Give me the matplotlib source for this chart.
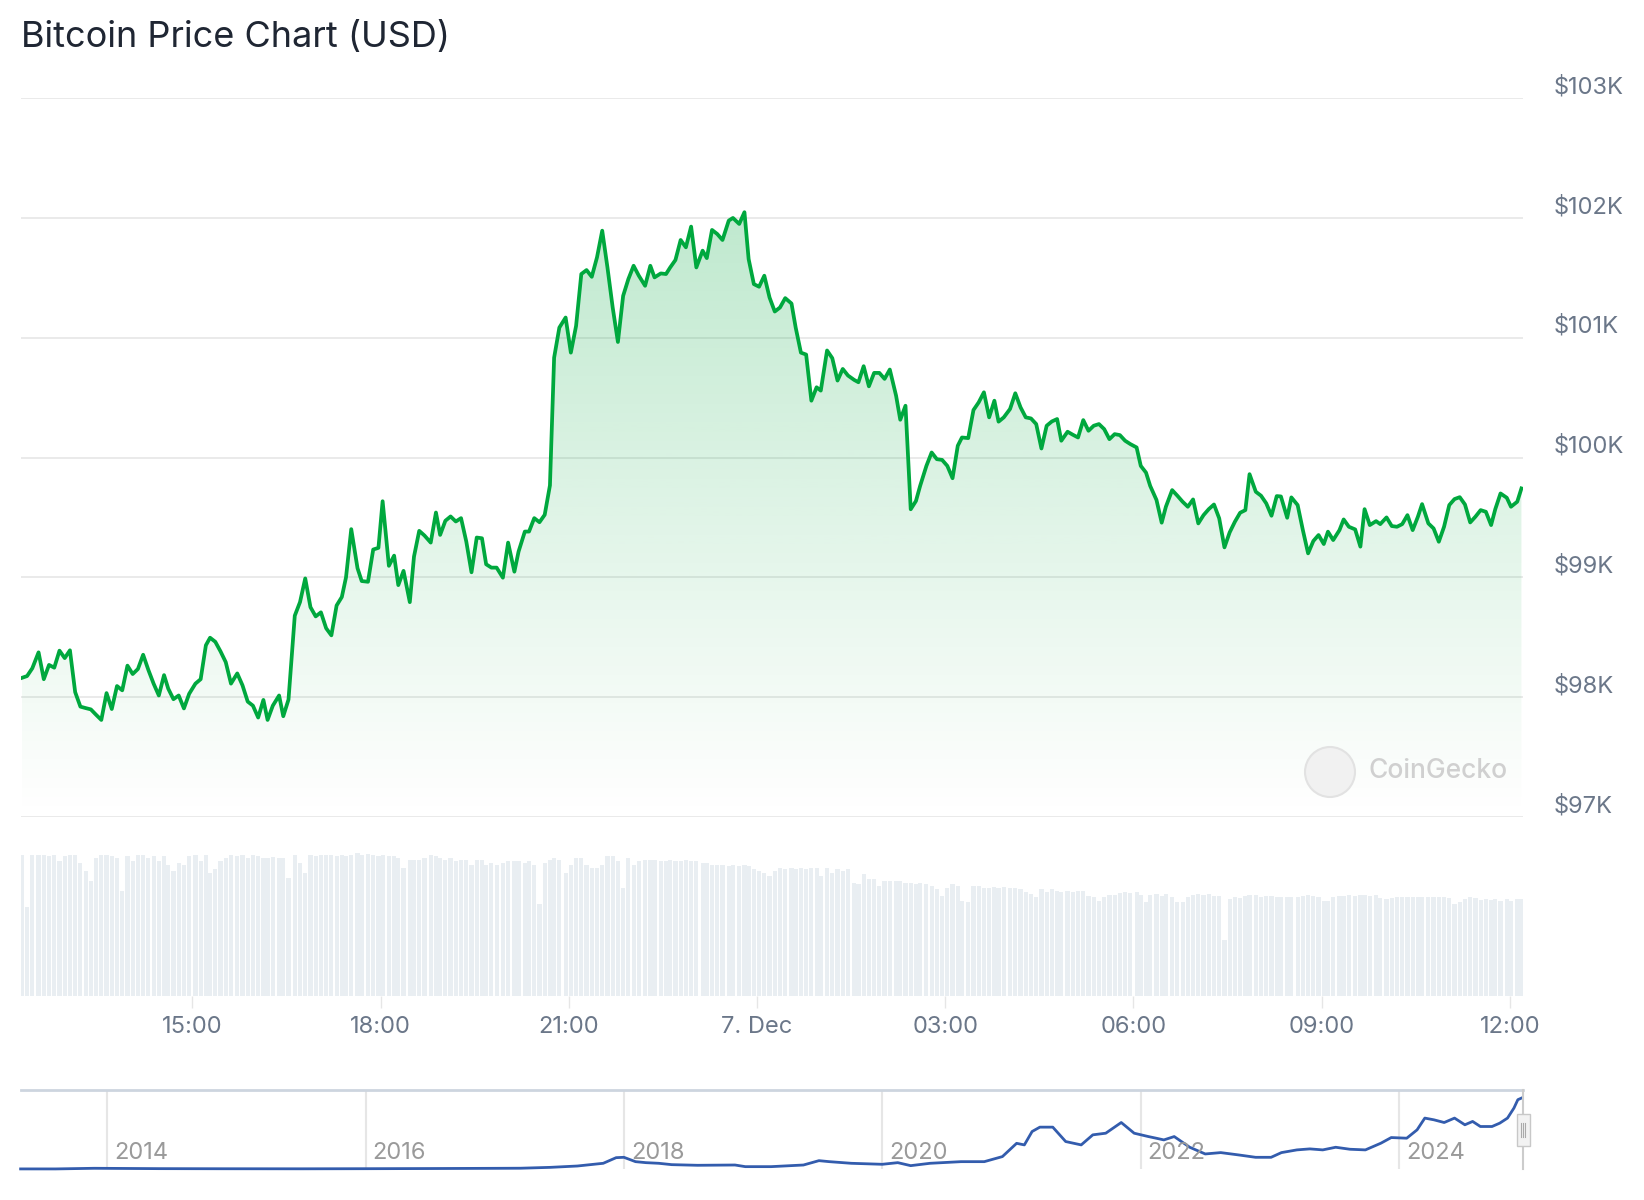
import numpy as np
import matplotlib
matplotlib.use('Agg')
import matplotlib.pyplot as plt
from matplotlib.patches import Rectangle, Ellipse

plt.rcParams['font.family'] = ['Inter', 'DejaVu Sans']

# 5-minute samples, minutes since 6 Dec 00:00
minutes = [
    737, 742, 747, 753, 758, 763, 768, 773, 778, 783, 788, 793, 798, 803, 808, 813, 818, 823, 828, 833,
    838, 843, 848, 853, 858, 863, 868, 873, 877, 882, 887, 892, 897, 903, 908, 913, 917, 922, 927, 932,
    937, 943, 948, 953, 958, 963, 968, 972, 977, 983, 987, 992, 998, 1003, 1008, 1013, 1018, 1023, 1028, 1033,
    1038, 1043, 1047, 1052, 1058, 1062, 1068, 1073, 1078, 1082, 1088, 1093, 1097, 1102, 1108,
    1112, 1117, 1122, 1128, 1133, 1137, 1142, 1147, 1152, 1157, 1162, 1167, 1172, 1177, 1181, 1186, 1191, 1197, 1202, 1208,
    1212, 1218, 1222, 1227, 1232, 1237, 1242, 1246, 1251, 1257, 1262, 1267, 1272, 1277, 1282, 1287, 1292, 1297, 1302, 1307,
    1312, 1317, 1322, 1327, 1333, 1338, 1342, 1348, 1353, 1357, 1362, 1367, 1372, 1377, 1382, 1388, 1392, 1397, 1402, 1407,
    1413, 1417, 1423, 1428, 1432, 1437, 1442, 1447, 1452, 1457, 1462, 1467, 1473, 1477, 1482,
    1487, 1492, 1497, 1501, 1507, 1512, 1517, 1522, 1527, 1533, 1537, 1542, 1547, 1552, 1557, 1562, 1567, 1573, 1577, 1582,
    1587, 1592, 1596, 1602, 1607, 1612, 1617, 1622, 1627, 1632, 1636, 1642, 1647, 1652, 1657, 1662, 1667, 1671, 1676, 1682,
    1687, 1692, 1697, 1702, 1707, 1712, 1717, 1722, 1727, 1731, 1737, 1742, 1747, 1752, 1757, 1762, 1767, 1772, 1777, 1782,
    1787, 1792, 1797, 1803, 1807, 1812, 1816, 1822, 1827,
    1831, 1837, 1842, 1847, 1852, 1857, 1862, 1867, 1872, 1877, 1882, 1887, 1892, 1897, 1902, 1907, 1911, 1917, 1922, 1927,
    1932, 1937, 1941, 1947, 1951, 1957, 1962, 1967, 1972, 1977, 1982, 1986, 1991, 1997, 2001, 2006, 2012, 2017, 2021, 2026,
    2032, 2036, 2042, 2047, 2052, 2057, 2062, 2067, 2072, 2076, 2082, 2087, 2092, 2097, 2102, 2107, 2112, 2117, 2122, 2127,
    2132, 2137, 2142, 2146, 2151, 2157, 2161, 2167, 2171,
]

price = [
    98161, 98176, 98241, 98374, 98150, 98269, 98246, 98388, 98326, 98391, 98042, 97921, 97909, 97898, 97853, 97810, 98034, 97901, 98093, 98057,
    98263, 98193, 98235, 98354, 98227, 98113, 98014, 98184, 98071, 97983, 98014, 97906, 98028, 98113, 98150, 98433, 98496, 98462, 98382, 98292,
    98113, 98198, 98099, 97963, 97929, 97830, 97977, 97810, 97929, 98014, 97841, 97980, 98680, 98793, 98991, 98751, 98674, 98708, 98575, 98516,
    98765, 98836, 99000, 99402, 99076, 98969, 98963, 99232, 99246, 99635, 99096, 99181, 98935, 99054, 98793,
    99173, 99388, 99349, 99290, 99541, 99354, 99472, 99508, 99466, 99494, 99299, 99042, 99332, 99326, 99109, 99081, 99081, 98997, 99290, 99047,
    99215, 99382, 99382, 99494, 99460, 99522, 99767, 100833, 101084, 101168, 100875, 101098, 101531, 101564, 101508, 101670, 101893, 101586, 101252, 100964,
    101349, 101489, 101600, 101517, 101433, 101600, 101503, 101536, 101531, 101586, 101648, 101815, 101754, 101927, 101586, 101726, 101664, 101899, 101865, 101815,
    101977, 101999, 101949, 102047, 101656, 101447, 101425, 101517, 101335, 101218, 101252, 101330, 101285, 101084, 100875,
    100859, 100474, 100586, 100558, 100893, 100829, 100642, 100739, 100684, 100647, 100628, 100762, 100594, 100706, 100706, 100656, 100734, 100516, 100315, 100432,
    99568, 99637, 99763, 99930, 100042, 99986, 99980, 99930, 99827, 100098, 100167, 100162, 100396, 100460, 100544, 100335, 100474, 100299, 100335, 100405,
    100536, 100419, 100335, 100326, 100279, 100075, 100265, 100301, 100321, 100140, 100215, 100190, 100167, 100312, 100223, 100265, 100279, 100237, 100153, 100195,
    100187, 100140, 100112, 100084, 99930, 99874, 99763, 99646, 99456,
    99589, 99728, 99681, 99631, 99589, 99650, 99450, 99519, 99569, 99608, 99492, 99250, 99375, 99464, 99539, 99561, 99861, 99714, 99681, 99617,
    99514, 99678, 99675, 99497, 99667, 99603, 99394, 99200, 99303, 99353, 99278, 99381, 99311, 99394, 99483, 99422, 99400, 99256, 99569, 99436,
    99469, 99444, 99500, 99428, 99422, 99444, 99519, 99394, 99506, 99611, 99450, 99408, 99297, 99422, 99603, 99653, 99669, 99608, 99458, 99506,
    99561, 99547, 99436, 99569, 99700, 99664, 99589, 99631, 99742,
]

# relative traded volume per sample
volume = [
    430, 270, 430, 430, 430, 425, 430, 410, 425, 430, 430, 405, 380, 350, 420, 430, 430, 425, 420, 320,
    425, 410, 430, 430, 420, 425, 410, 425, 400, 380, 405, 400, 425, 430, 410, 430, 375, 385, 410, 420,
    430, 425, 430, 420, 430, 425, 420, 420, 422, 420, 420, 360, 430, 405, 375, 430, 425, 430, 430, 430,
    425, 430, 425, 430, 435, 430, 433, 430, 425, 430, 425, 425, 420, 390, 415,
    415, 415, 420, 430, 425, 420, 415, 420, 410, 415, 415, 400, 415, 415, 400, 405, 400, 405, 410, 410,
    410, 405, 410, 400, 280, 405, 415, 420, 415, 375, 400, 420, 420, 400, 390, 390, 400, 425, 425, 410,
    330, 420, 400, 410, 415, 415, 415, 412, 410, 415, 412, 410, 415, 412, 410, 405, 405, 400, 400, 400,
    395, 400, 395, 400, 395, 385, 380, 375, 365, 380, 390, 385, 390, 385, 390,
    385, 390, 390, 365, 390, 375, 385, 380, 385, 345, 340, 370, 355, 355, 335, 350, 350, 350, 350, 345,
    345, 340, 345, 340, 335, 325, 305, 330, 340, 335, 290, 285, 335, 335, 330, 330, 332, 330, 332, 330,
    330, 325, 315, 310, 300, 325, 315, 325, 320, 315, 320, 315, 320, 320, 305, 300, 290, 302, 308, 308,
    312, 315, 312, 315, 308, 285, 308, 310, 305,
    310, 302, 285, 285, 300, 308, 310, 308, 310, 305, 305, 170, 295, 302, 298, 305, 308, 308, 300, 305,
    305, 302, 302, 302, 302, 302, 305, 308, 305, 300, 288, 290, 300, 305, 305, 308, 305, 308, 308, 305,
    308, 298, 295, 298, 300, 300, 300, 300, 300, 300, 300, 300, 300, 300, 298, 280, 285, 295, 300, 298,
    292, 295, 292, 295, 290, 295, 290, 295, 295,
]

xticks = [900, 1080, 1260, 1440, 1620, 1800, 1980, 2160]
xlabels = ['15:00', '18:00', '21:00', '7. Dec', '03:00', '06:00', '09:00', '12:00']
yticks = [97000, 98000, 99000, 100000, 101000, 102000, 103000]
ylabels = ['$97K', '$98K', '$99K', '$100K', '$101K', '$102K', '$103K']

# navigator: long-term history, price in $K
nav_year = [2013.33, 2013.6, 2013.9, 2014.1, 2014.4, 2014.9, 2015.5, 2016.0, 2016.5, 2017.0,
            2017.2, 2017.43, 2017.64, 2017.84, 2017.94, 2018.0, 2018.09, 2018.17, 2018.27, 2018.37,
            2018.57, 2018.86, 2018.94, 2019.14, 2019.39, 2019.51, 2019.59, 2019.76, 2020.0, 2020.12,
            2020.22, 2020.37, 2020.61, 2020.79, 2020.93, 2021.04, 2021.1, 2021.16, 2021.22, 2021.32,
            2021.42, 2021.54, 2021.63, 2021.73, 2021.85, 2021.95, 2022.06, 2022.12, 2022.18, 2022.26,
            2022.38, 2022.5, 2022.62, 2022.76, 2022.89, 2023.01, 2023.09, 2023.21, 2023.31, 2023.41,
            2023.51, 2023.62, 2023.74, 2023.86, 2023.94, 2024.06, 2024.14, 2024.2, 2024.27, 2024.35,
            2024.43, 2024.51, 2024.57, 2024.63, 2024.72, 2024.78, 2024.84, 2024.89, 2024.92, 2024.95]
nav_price = [0.12, 0.1, 1.0, 0.8, 0.5, 0.35, 0.27, 0.42, 0.65, 0.95,
             1.1, 2.3, 4.2, 8.0, 15.9, 16.4, 10.3, 8.9, 8.0, 6.1,
             5.2, 5.6, 3.3, 3.3, 5.6, 11.7, 10.3, 8.0, 6.6, 8.9,
             4.7, 8.0, 10.3, 10.3, 17.4, 36.0, 33.8, 52.6, 58.7, 58.7,
             38.5, 33.8, 47.9, 50.2, 65.2, 50.2, 45.5, 43.2, 40.8, 45.5,
             30.5, 21.1, 23.0, 19.7, 16.4, 16.4, 23.0, 26.8, 28.2, 26.8,
             30.5, 27.7, 26.8, 36.2, 44.1, 43.2, 54.9, 71.4, 69.0, 65.2,
             71.4, 62.0, 66.7, 59.6, 59.6, 64.3, 71.4, 85.5, 97.2, 99.6]
nav_years = [2014, 2016, 2018, 2020, 2022, 2024]

W, H = 1644, 1200
GREEN = '#00a83e'
LABEL = '#6b7789'
GRID = '#e6e6e6'


def box(x0, y0, x1, y1):
    return [x0 / W, 1 - y1 / H, (x1 - x0) / W, (y1 - y0) / H]


fig = plt.figure(figsize=(W / 100, H / 100), dpi=100)
fig.patch.set_facecolor('white')

fig.text(21 / W, 1 - 37 / H, 'Bitcoin Price Chart (USD)', fontsize=26,
         color='#1f2633', ha='left', va='center')

# price panel
ax = fig.add_axes(box(21, 98, 1523, 817))
x = np.array(minutes)
y = np.array(price)
for v in yticks:
    ax.axhline(v, color=GRID, lw=1.2, zorder=0)

poly = ax.fill_between(x, y, 97000, facecolor='none', edgecolor='none')
grad = np.zeros((256, 1, 4))
grad[..., 1] = 168 / 255
grad[..., 2] = 62 / 255
grad[..., 3] = np.linspace(0.0, 0.3, 256)[:, None]
im = ax.imshow(grad, extent=[x[0], x[-1], 97000, 103000], origin='lower',
               aspect='auto', zorder=1, interpolation='bilinear')
im.set_clip_path(poly.get_paths()[0], transform=ax.transData)
ax.plot(x, y, color=GREEN, lw=2.7, zorder=3, solid_joinstyle='round')

ax.set_xlim(736.2, 2172.5)
ax.set_ylim(97000, 103000)
ax.axis('off')
for v, lab in zip(yticks, ylabels):
    ax.annotate(lab, xy=(1, v), xycoords=('axes fraction', 'data'),
                xytext=(31 * 0.72, 11 * 0.72), textcoords='offset points',
                ha='left', va='center', fontsize=17, color=LABEL,
                annotation_clip=False)

# watermark
fig.add_artist(Ellipse((1330 / W, 1 - 772 / H), 50 / W, 50 / H,
                       transform=fig.transFigure, fc='#f1f1f1', ec='#e2e2e2', lw=1.5))
fig.text(1368 / W, 1 - 771 / H, 'CoinGecko', fontsize=19, color='#d0d0d0',
         ha='left', va='center', fontweight='medium')

# volume panel
axv = fig.add_axes(box(21, 853, 1523, 996))
axv.bar(x, volume, width=4.0, color='#e9eef2', linewidth=0)
axv.set_xlim(736.2, 2172.5)
axv.set_ylim(0, 435)
for s in axv.spines.values():
    s.set_visible(False)
axv.set_yticks([])
axv.set_xticks(xticks)
axv.set_xticklabels(xlabels)
axv.tick_params(axis='x', length=8.5, width=1, color=GRID, labelcolor=LABEL,
                labelsize=17, pad=6)

# navigator
axn = fig.add_axes(box(21, 1090, 1523, 1169))
for yr in nav_years:
    axn.axvline(yr, color=GRID, lw=1.5, zorder=0)
    axn.annotate(str(yr), xy=(yr, 0.2), xycoords=('data', 'axes fraction'),
                 xytext=(7 * 0.72, 0), textcoords='offset points',
                 ha='left', va='center', fontsize=17, color='#9a9a9a')
axn.plot(nav_year, nav_price, color='#335cad', lw=2, clip_on=False, zorder=2)
axn.set_xlim(2013.333, 2024.96)
axn.set_ylim(0, 110.8)
axn.set_xticks([])
axn.set_yticks([])
for k, s in axn.spines.items():
    s.set_visible(k == 'top')
axn.spines['top'].set_color('#cdd5df')
axn.spines['top'].set_linewidth(2)
axn.axvline(2024.96, color='#cccccc', lw=1.5, zorder=3, clip_on=False)
axn.add_patch(Rectangle((1 - 0.0043, 0.29), 0.0087, 0.406, transform=axn.transAxes,
                        fc='#f2f2f2', ec='#c8c8c8', lw=1, clip_on=False, zorder=4))
for dx in (-0.0013, 0, 0.0013):
    axn.plot([1 + dx, 1 + dx], [0.40, 0.58], transform=axn.transAxes,
             color='#aaaaaa', lw=0.8, clip_on=False, zorder=5)

fig.savefig('out.png', dpi=100)
